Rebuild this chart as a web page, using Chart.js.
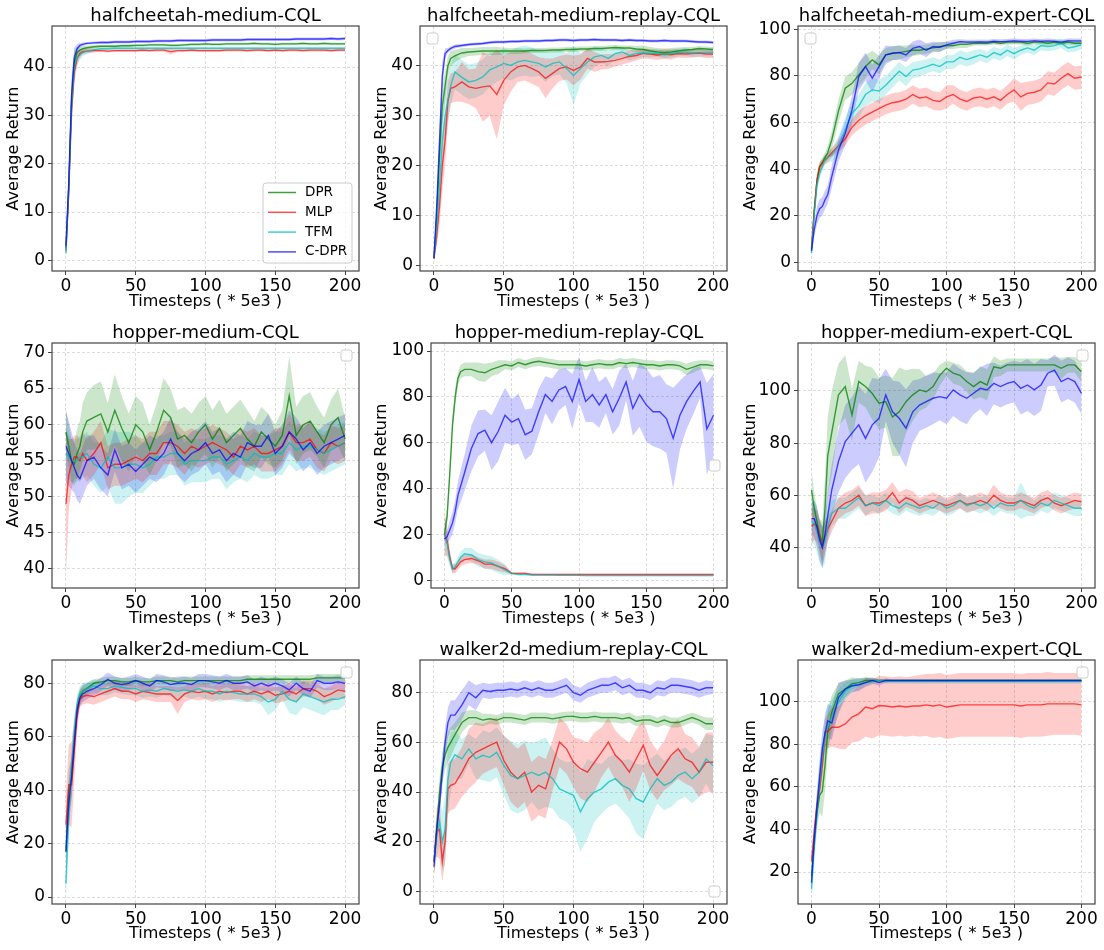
<!doctype html>
<html>
<head>
<meta charset="utf-8">
<title>CQL learning curves</title>
<script src="https://cdn.jsdelivr.net/npm/chart.js@4.4.0/dist/chart.umd.min.js"></script>
<style>
	body { margin: 0; background: #fff; width: 1104px; height: 950px; position: relative; overflow: hidden; }
	canvas { position: absolute; }
</style>
</head>
<body>
<script>
// x positions of the logged points (Timesteps / 5e3)
var steps = [0, 2, 4, 6, 8, 10, 12, 15,
	20, 25, 30, 35, 40, 45, 50, 55, 60, 65,
	70, 75, 80, 85, 90, 95, 100, 105, 110, 115,
	120, 125, 130, 135, 140, 145, 150, 155, 160, 165,
	170, 175, 180, 185, 190, 195, 200];
var xTicks = [0, 50, 100, 150, 200];
var seriesNames = ['DPR', 'MLP', 'TFM', 'C-DPR'];

// halfcheetah-medium
var hcMedTicks = [0, 10, 20, 30, 40];
var hcMedDPR = [2.5, 15, 33, 41, 43, 43.5, 43.8, 44.0,
	44.2, 44.3, 44.3, 44.3, 44.4, 44.4, 44.5, 44.5, 44.6, 44.6,
	44.6, 44.5, 44.5, 44.6, 44.7, 44.7, 44.8, 44.7, 44.7, 44.8,
	44.8, 44.8, 44.8, 44.9, 44.8, 44.8, 44.7, 44.8, 44.8, 44.8,
	44.9, 44.8, 44.8, 44.9, 44.8, 44.8, 44.8];
var hcMedDPRsd = [1, 3, 4, 2.5, 1.2, 0.8, 0.5, 0.4,
	0.3, 0.3, 0.3, 0.3, 0.3, 0.3, 0.3, 0.3, 0.3, 0.3,
	0.3, 0.3, 0.3, 0.3, 0.3, 0.3, 0.3, 0.3, 0.3, 0.3,
	0.3, 0.3, 0.3, 0.3, 0.3, 0.3, 0.3, 0.3, 0.3, 0.3,
	0.3, 0.3, 0.3, 0.3, 0.3, 0.3, 0.3];
var hcMedMLP = [2, 14, 31, 39, 41.8, 42.8, 43.2, 43.3,
	43.4, 43.4, 43.3, 43.4, 43.4, 43.4, 43.4, 43.5, 43.4, 43.5,
	43.5, 43.2, 43.4, 43.4, 43.5, 43.4, 43.4, 43.4, 43.4, 43.5,
	43.5, 43.5, 43.4, 43.5, 43.5, 43.4, 43.5, 43.4, 43.5, 43.5,
	43.4, 43.5, 43.5, 43.5, 43.4, 43.5, 43.5];
var hcMedMLPsd = [1, 3, 4, 2.5, 1.5, 0.8, 0.6, 0.5,
	0.4, 0.3, 0.3, 0.3, 0.3, 0.3, 0.3, 0.3, 0.3, 0.3,
	0.3, 0.6, 0.3, 0.3, 0.3, 0.3, 0.3, 0.3, 0.3, 0.3,
	0.3, 0.3, 0.3, 0.3, 0.3, 0.3, 0.3, 0.3, 0.3, 0.3,
	0.3, 0.3, 0.3, 0.3, 0.3, 0.3, 0.3];
var hcMedTFM = [1.5, 15, 32, 40, 42, 42.5, 43, 43.3,
	43.6, 43.8, 43.8, 43.9, 43.9, 43.9, 43.9, 43.9, 43.9, 43.9,
	43.9, 43.9, 43.9, 43.9, 43.9, 43.9, 43.9, 43.9, 43.9, 43.9,
	43.9, 43.9, 43.9, 43.9, 43.9, 43.9, 43.9, 43.9, 43.9, 43.9,
	43.9, 43.9, 43.9, 43.9, 43.9, 43.9, 43.9];
var hcMedTFMsd = [1.5, 3, 4, 2.5, 1.5, 1, 0.8, 0.6,
	0.4, 0.3, 0.3, 0.3, 0.3, 0.3, 0.3, 0.3, 0.3, 0.3,
	0.3, 0.3, 0.3, 0.3, 0.3, 0.3, 0.3, 0.3, 0.3, 0.3,
	0.3, 0.3, 0.3, 0.3, 0.3, 0.3, 0.3, 0.3, 0.3, 0.3,
	0.3, 0.3, 0.3, 0.3, 0.3, 0.3, 0.3];
var hcMedCDPR = [3, 16, 34, 42, 43.8, 44.5, 44.7, 44.9,
	45.0, 45.1, 45.1, 45.2, 45.2, 45.2, 45.3, 45.3, 45.3, 45.4,
	45.4, 45.4, 45.5, 45.5, 45.5, 45.5, 45.5, 45.6, 45.6, 45.6,
	45.6, 45.6, 45.7, 45.7, 45.7, 45.7, 45.7, 45.7, 45.7, 45.8,
	45.8, 45.8, 45.8, 45.8, 45.9, 45.8, 45.9];
var hcMedCDPRsd = [1, 3, 4, 2, 1, 0.5, 0.4, 0.3,
	0.3, 0.3, 0.3, 0.3, 0.3, 0.3, 0.3, 0.3, 0.3, 0.3,
	0.3, 0.3, 0.3, 0.3, 0.3, 0.3, 0.3, 0.3, 0.3, 0.3,
	0.3, 0.3, 0.3, 0.3, 0.3, 0.3, 0.3, 0.3, 0.3, 0.3,
	0.3, 0.3, 0.3, 0.3, 0.3, 0.3, 0.3];

// halfcheetah-medium-replay
var hcRepTicks = [0, 10, 20, 30, 40];
var hcRepDPR = [1.5, 10, 22, 32, 36, 40, 41.5, 42,
	42.6, 42.8, 42.9, 43.0, 43.0, 43.0, 43.0, 43.0, 43.0, 43.0,
	43.1, 43.1, 43.1, 43.2, 43.2, 43.3, 43.3, 43.4, 43.4, 43.5,
	43.5, 43.6, 43.7, 43.6, 43.6, 43.4, 43.3, 43.0, 42.8, 42.7,
	42.8, 43.0, 43.2, 43.3, 43.5, 43.4, 43.3];
var hcRepDPRsd = [1, 3, 4, 4, 3, 2, 1.5, 1.2,
	1, 0.8, 0.8, 0.8, 0.8, 0.8, 0.7, 0.6, 0.6, 0.5,
	0.5, 0.5, 0.5, 0.5, 0.5, 0.5, 0.5, 0.5, 0.5, 0.5,
	0.5, 0.5, 0.5, 0.5, 0.5, 0.6, 0.8, 0.8, 0.8, 0.8,
	0.8, 0.7, 0.6, 0.5, 0.5, 0.5, 0.5];
var hcRepMLP = [1.3, 6, 12, 20, 25, 33, 35.5, 35.8,
	36.8, 35.8, 35.5, 35.8, 36.0, 34.3, 37.1, 38.8, 39.8, 40.1,
	39.5, 38.8, 37.5, 38.5, 39.5, 39.8, 39.1, 39.8, 41.5, 40.8,
	40.8, 40.9, 41.1, 41.5, 41.9, 42.1, 42.5, 42.4, 42.2, 42.4,
	42.3, 42.5, 42.4, 42.5, 42.6, 42.4, 42.4];
var hcRepMLPsd = [0.5, 2, 4, 5, 5, 4, 3, 3,
	4, 3.5, 4, 7, 6, 9, 5, 4, 3, 3,
	3, 3, 4, 3, 2.5, 2.5, 3, 2.5, 2, 2,
	1.5, 1.5, 1.2, 1.2, 1.2, 1, 1, 1, 1, 1,
	1, 0.8, 0.8, 0.8, 0.8, 0.8, 0.8];
var hcRepTFM = [1.5, 8, 16, 25, 30, 33, 36, 38.8,
	37.7, 36.8, 37.1, 37.8, 39.2, 39.8, 40.5, 40.1, 40.8, 41.1,
	40.8, 40.5, 39.8, 40.5, 40.8, 39.5, 38.1, 39.5, 40.8, 41.8,
	42.1, 41.5, 42.5, 42.8, 42.1, 42.5, 42.6, 42.5, 42.6, 42.3,
	42.5, 42.7, 42.8, 42.6, 42.7, 42.7, 42.7];
var hcRepTFMsd = [1, 3, 4, 5, 5, 5, 4, 3.5,
	3.5, 3.5, 3.5, 3.5, 3.5, 3, 3, 3, 3, 3,
	3, 2.5, 3, 2.5, 2.5, 3, 6, 3, 2.5, 2,
	1.5, 1.5, 1.2, 1, 1, 1, 0.8, 0.8, 0.8, 0.8,
	0.8, 0.8, 0.8, 0.8, 0.8, 0.8, 0.8];
var hcRepCDPR = [1.5, 12, 25, 38, 42.5, 43.1, 43.5, 43.9,
	44.1, 44.3, 44.4, 44.5, 44.7, 44.8, 44.8, 44.9, 44.9, 45.0,
	45.0, 45.0, 45.1, 45.1, 45.2, 45.2, 45.1, 45.2, 45.2, 45.3,
	45.2, 45.2, 45.2, 45.1, 45.2, 45.1, 45.1, 45.0, 45.0, 45.1,
	45.0, 45.0, 45.0, 44.9, 44.8, 44.8, 44.7];
var hcRepCDPRsd = [0.5, 2, 3, 3, 1, 0.5, 0.4, 0.4,
	0.3, 0.3, 0.3, 0.3, 0.3, 0.3, 0.3, 0.3, 0.3, 0.3,
	0.3, 0.3, 0.3, 0.3, 0.3, 0.3, 0.3, 0.3, 0.3, 0.3,
	0.3, 0.3, 0.3, 0.3, 0.3, 0.3, 0.3, 0.3, 0.3, 0.3,
	0.3, 0.3, 0.3, 0.3, 0.3, 0.3, 0.3];

// halfcheetah-medium-expert
var hcExpTicks = [0, 20, 40, 60, 80, 100];
var hcExpDPR = [5, 22, 35, 41, 43, 45, 47, 52.5,
	65, 74.7, 76.8, 80.4, 84, 86.8, 84.7, 89, 89.7, 90,
	90.5, 91, 91, 91.5, 92, 92.5, 93, 93, 93.5, 93.5,
	94, 94, 94, 94.5, 94, 94.5, 94.5, 94.5, 94, 94.5,
	94.5, 94, 94.5, 94, 94.5, 94, 94];
var hcExpDPRsd = [2, 3, 3, 2, 2, 2, 3, 4,
	5, 5, 5, 5, 5, 4, 4, 3, 3, 3,
	2.5, 2.5, 2, 2, 2, 2, 1.5, 1.5, 1.5, 1.5,
	1, 1, 1, 1, 1, 1, 1, 1, 1, 1,
	1, 1, 1, 1, 1, 1, 1];
var hcExpMLP = [6, 22, 35, 41, 42.5, 44, 45, 47,
	50, 53, 58, 61, 63, 64.5, 66, 67.5, 68.5, 69,
	70, 72, 70.5, 71, 69.5, 69, 71, 72, 70, 69,
	70.5, 71, 70, 71, 69.5, 72, 74, 71, 72.5, 73,
	74, 77, 76.5, 79, 81, 79, 79.5];
var hcExpMLPsd = [2, 3, 3, 2, 2, 2, 2, 2,
	2.5, 3, 3.5, 4, 4, 4, 4, 4, 4, 4,
	4, 4, 4, 4, 4, 4, 5, 4, 4, 4,
	4, 4, 4, 4, 4, 4, 5, 6, 5, 5,
	5, 5, 5, 5, 5, 5, 5];
var hcExpTFM = [4, 20, 33, 38, 41, 44, 45, 46,
	50, 57, 64, 67, 72, 74, 73.5, 76, 79, 82,
	79.7, 82.5, 83, 84, 85, 84, 86, 86, 88, 87,
	88, 89, 88, 90, 89, 91, 89.5, 91, 92, 91,
	93, 92.6, 93, 94, 92, 92.5, 93.3];
var hcExpTFMsd = [2, 3, 3, 2, 2, 2, 2, 3,
	4, 5, 5, 5, 5, 5, 5, 4, 4, 4,
	4, 3.5, 3.5, 3, 3, 3, 3, 3, 3, 3,
	3, 2.5, 2.5, 2.5, 2.5, 2.5, 2.5, 2, 2, 2,
	2, 2, 2, 2, 2, 2, 2];
var hcExpCDPR = [5, 14, 20, 23, 24, 26.8, 29, 36.8,
	48.2, 55.4, 65.4, 79.7, 84, 79, 84, 89, 89.7, 90,
	89, 91.8, 92.6, 91, 92.6, 92.3, 93.3, 94, 94.7, 94.5,
	94.5, 94.6, 94.5, 94.8, 94.7, 94.8, 95, 94.8, 94.8, 95,
	94.8, 95, 94.8, 94.5, 95, 95, 95];
var hcExpCDPRsd = [2, 3, 4, 4, 4, 4, 4, 5,
	5, 5, 6, 6, 6, 6, 5, 4, 3, 3,
	3, 3, 3, 3, 2, 2, 1.5, 1.5, 1, 1,
	1, 1, 1, 1, 1, 1, 1, 1, 1, 1,
	1, 1, 1, 1, 1, 1, 1];

// hopper-medium
var hopMedTicks = [40, 45, 50, 55, 60, 65, 70];
var hopMedDPR = [59, 57, 55, 54.5, 56, 57, 59, 60.5,
	61, 61.5, 59, 62, 59.5, 57.5, 60, 59, 56.5, 59,
	62, 61, 58, 58.5, 57.5, 59, 60, 58, 59.5, 57.5,
	58.5, 59.5, 58, 57, 59, 58, 57, 58.5, 64, 58.5,
	60, 60.5, 59, 57.5, 60, 61, 58];
var hopMedDPRsd = [3, 3, 3, 3, 3.5, 3.5, 4, 4,
	4.5, 4.5, 4, 5, 4.5, 4, 4, 4, 3.5, 4,
	4.5, 4, 4, 4, 4, 4, 4, 4, 4, 4,
	4, 4, 4, 3.5, 3.5, 3.5, 3, 3.5, 5.5, 4,
	4, 4, 3.5, 3.5, 3.5, 4, 3];
var hopMedMLP = [49, 53, 54.5, 55.5, 55.5, 55, 56, 55,
	56, 57.5, 54, 54.5, 54.5, 55, 55.5, 55, 56, 56,
	57.5, 57.5, 57, 56, 57, 56.5, 57, 57.5, 57, 56.5,
	55.5, 57, 56.5, 57, 56, 56, 56.5, 57, 59, 57.5,
	57.5, 58, 56.5, 56, 57.5, 57, 57.5];
var hopMedMLPsd = [10, 5, 3.5, 3, 3, 3, 3, 3,
	3, 3, 3, 3, 3, 3, 3, 3, 3, 3,
	3, 3, 3, 3, 2.5, 2.5, 2.5, 2.5, 2.5, 2.5,
	2.5, 2.5, 2.5, 2.5, 2.5, 2.5, 3, 2.5, 2.5, 2.5,
	2.5, 2.5, 2.5, 2.5, 2.5, 2.5, 2.5];
var hopMedTFM = [56, 55.5, 55, 55, 55, 55.5, 55.5, 56,
	54.5, 54, 55.5, 54, 54, 54.5, 54.5, 54, 54.5, 55.5,
	55.5, 56, 56, 54.5, 55, 55, 55, 55.5, 55.5, 54.5,
	55, 55.5, 55, 56, 55.5, 55.5, 56, 56, 57.5, 56.5,
	57, 57, 56.5, 56, 56.5, 57, 57.5];
var hopMedTFMsd = [3.5, 3, 3, 3, 3, 3, 3, 3,
	3, 3.5, 4, 5, 5, 4.5, 4, 3.5, 3, 3,
	3, 3, 3, 3, 3, 3, 3, 3, 3, 3.5,
	3, 3, 3, 3, 3, 3, 3, 3, 3, 3,
	3, 3, 3, 3, 3, 3, 3];
var hopMedCDPR = [57, 56, 55, 54, 53, 52.5, 53.5, 55,
	55.5, 54, 53, 56.5, 54, 54.5, 53.5, 54.5, 55.5, 55,
	56, 58, 56, 55, 56, 56.5, 57.5, 56, 56.5, 55,
	56, 55.5, 57.5, 57, 57, 58.5, 56, 57, 59, 58,
	56.5, 57.5, 56, 57, 57.5, 58, 58.5];
var hopMedCDPRsd = [5, 4.5, 4, 3.5, 3.5, 3.5, 3.5, 3.5,
	3, 3, 3, 3, 3, 3, 3, 3, 3, 3,
	3, 3, 3, 3, 3, 3, 3, 3, 3, 3,
	3, 3, 3, 3, 3, 3, 3, 3, 3, 3,
	3, 3, 3, 3, 3, 3, 3];

// hopper-medium-replay
var hopRepTicks = [0, 20, 40, 60, 80, 100];
var hopRepDPR = [20, 28, 47, 68, 80, 88, 91, 92,
	92, 91, 90.5, 92, 93, 94, 93.5, 95, 94, 95,
	95.5, 95, 94.5, 94, 94, 94, 94, 93.5, 94, 94.5,
	94, 94, 95, 94.5, 95, 94.5, 94, 94, 93.5, 94,
	94, 93.5, 92, 93, 94, 94, 93.5];
var hopRepDPRsd = [3, 4, 4, 4, 4, 3, 3, 3,
	3, 4, 4, 3, 3, 2, 2, 2, 2, 2,
	2, 2, 2, 2, 2, 2, 2, 2, 2, 2,
	2, 2, 2, 2, 2, 2, 2, 2, 2, 2,
	2, 2, 2.5, 2.5, 2, 2, 2];
var hopRepMLP = [20, 17, 10, 5, 5, 6.5, 8, 9,
	9.5, 8.5, 7, 7, 6, 5, 3, 3, 3, 2.5,
	2.5, 2.5, 2.5, 2.5, 2.5, 2.5, 2.5, 2.5, 2.5, 2.5,
	2.5, 2.5, 2.5, 2.5, 2.5, 2.5, 2.5, 2.5, 2.5, 2.5,
	2.5, 2.5, 2.5, 2.5, 2.5, 2.5, 2.5];
var hopRepMLPsd = [10, 6, 3, 2, 2, 2, 2, 2,
	2, 1.5, 2, 2, 2, 1.5, 0.5, 0.5, 0.5, 0.4,
	0.3, 0.3, 0.3, 0.3, 0.3, 0.3, 0.3, 0.3, 0.3, 0.3,
	0.3, 0.3, 0.3, 0.3, 0.3, 0.3, 0.3, 0.3, 0.3, 0.3,
	0.3, 0.3, 0.3, 0.3, 0.3, 0.3, 0.3];
var hopRepTFM = [20, 16, 9, 5, 6, 8, 10, 11.5,
	11, 9, 8, 7.5, 6, 4.5, 3, 2.5, 2.5, 2.3,
	2.2, 2.2, 2.2, 2.1, 2.1, 2.1, 2.1, 2.0, 2.0, 2.0,
	2.0, 2.0, 2.0, 2.0, 2.0, 2.0, 2.0, 2.0, 2.0, 2.0,
	2.0, 2.0, 2.0, 2.0, 2.0, 2.0, 2.0];
var hopRepTFMsd = [8, 6, 3, 2, 2, 2, 2.5, 2.5,
	3, 3, 3, 3, 3, 2.5, 0.5, 0.4, 0.3, 0.3,
	0.3, 0.3, 0.3, 0.3, 0.3, 0.3, 0.3, 0.3, 0.3, 0.3,
	0.3, 0.3, 0.3, 0.3, 0.3, 0.3, 0.3, 0.3, 0.3, 0.3,
	0.3, 0.3, 0.3, 0.3, 0.3, 0.3, 0.3];
var hopRepCDPR = [18, 19, 22, 25, 30, 37, 41, 47,
	57.5, 64, 65.5, 60, 65, 72, 69, 70.5, 63.5, 65,
	73.5, 81, 78, 83, 84.5, 78, 87.5, 78, 81, 76.5,
	81, 73.5, 79.5, 86.5, 75, 81, 76.5, 73.5, 73.5, 70.5,
	62, 72, 78, 82.5, 86.5, 66, 72];
var hopRepCDPRsd = [2, 3, 4, 5, 5, 6, 7, 8,
	10, 10, 9, 12, 13, 12, 10, 11, 11, 10,
	10, 8, 10, 9, 8, 12, 10, 9, 12, 10,
	8, 10, 12, 8, 12, 14, 16, 15, 16, 15,
	22, 15, 12, 10, 7, 20, 18];

// hopper-medium-expert
var hopExpTicks = [40, 60, 80, 100];
var hopExpDPR = [62, 55, 50, 45, 42, 55, 75, 84,
	98.5, 101.7, 90.8, 103.6, 101.7, 99, 95.3, 95.9, 90, 92,
	95.9, 98.5, 100.4, 99.7, 101.7, 106, 108.7, 106.8, 106, 103.6,
	101.7, 103.6, 102.3, 109.3, 108.7, 110, 110, 110, 110, 110,
	110, 110, 110, 108.7, 110, 110, 107.4];
var hopExpDPRsd = [8, 6, 5, 6, 8, 12, 15, 16,
	12, 12, 10, 8, 8, 10, 10, 10, 15, 17,
	12, 10, 8, 6, 5, 4, 3, 4, 4, 4,
	5, 6, 6, 4, 3, 2.5, 2.5, 2.5, 2.5, 2.5,
	2.5, 2.5, 3, 4, 3, 3, 4];
var hopExpMLP = [48, 49, 48, 44, 40, 44, 47, 50,
	55, 57, 58, 60, 56, 57, 57, 58, 61, 57,
	59, 58, 56, 57, 58, 57, 56, 57, 58, 56.5,
	57, 58, 57, 60, 58, 57, 57, 58, 57, 56,
	58, 59, 57, 56, 57, 58, 57.5];
var hopExpMLPsd = [7, 6, 6, 6, 7, 6, 5, 4,
	4, 4, 4, 4, 4, 4, 4, 4, 4, 4,
	3.5, 3.5, 3, 3, 3, 3, 3, 3, 3, 3,
	3, 3, 3, 4, 3, 3, 3, 3, 3, 3,
	3, 3, 3, 3, 3, 3, 3];
var hopExpTFM = [50, 49, 46, 42, 40, 42, 48, 53,
	55, 55, 57, 59, 56, 57, 56, 58, 56, 55,
	57, 56, 55, 56, 55, 57, 55, 56, 58, 56,
	57, 56, 57, 55, 57, 56, 56, 58, 56, 55,
	57, 56, 58, 57, 56, 55, 55];
var hopExpTFMsd = [8, 8, 8, 8, 8, 8, 6, 5,
	4, 4, 4, 4, 4, 3, 3, 3, 3, 3,
	3, 3, 3, 3, 3, 3, 3, 3, 3, 3,
	3, 3, 3, 3, 3, 3, 3, 7, 4, 3,
	3, 3, 3, 3, 3, 3, 3];
var hopExpCDPR = [51, 51, 48, 43, 40, 45, 52, 62,
	73, 80.6, 83.8, 87, 81.8, 87, 89.5, 98.5, 92, 89.5,
	85.7, 92, 94.6, 95.9, 97.2, 97.8, 97.2, 100.4, 98.5, 97.2,
	99.1, 101, 100.4, 102.9, 101.7, 102.9, 103.6, 101, 102.3, 100.4,
	102.3, 106.8, 108, 103.6, 104.9, 103.6, 99.1];
var hopExpCDPRsd = [6, 7, 8, 8, 8, 8, 9, 10,
	12, 14, 14, 15, 17, 18, 15, 10, 12, 14,
	15, 12, 10, 10, 10, 9, 10, 10, 10, 10,
	8, 8, 10, 8, 8, 8, 8, 10, 10, 10,
	10, 5, 6, 8, 8, 8, 8];

// walker2d-medium
var wkMedTicks = [0, 20, 40, 60, 80];
var wkMedDPR = [17, 40, 44, 58, 70, 75, 77, 78,
	80, 80.5, 81, 81, 80.5, 80.5, 81, 80.5, 80.5, 81,
	81, 81, 80.5, 81, 81, 81, 81, 81, 81, 81,
	81, 81, 81.5, 81.5, 81.5, 81.5, 81.5, 81.5, 81.5, 81.5,
	81.5, 81.5, 82, 82, 82, 82, 82];
var wkMedDPRsd = [8, 8, 8, 6, 4, 3, 2.5, 2,
	1.5, 1.5, 1.5, 1.5, 1.5, 1.5, 1.5, 1.5, 1.5, 1.5,
	1.5, 1.5, 1.5, 1.5, 1.5, 1.5, 1.5, 1.5, 1.5, 1.5,
	1.5, 1.5, 1.5, 1.5, 1.5, 1.5, 1.5, 1.5, 1.5, 1.5,
	1.5, 1.5, 1.5, 1.5, 1.5, 1.5, 1.5];
var wkMedMLP = [27, 42, 42, 55, 68, 74, 75, 75.5,
	75, 76, 77, 78, 77, 77, 76, 77, 76.5, 76,
	76, 76, 73.5, 76, 77, 76.5, 77, 76, 77, 76.5,
	77, 77, 76, 77, 76, 77, 75.5, 76, 77, 76,
	78, 78, 77, 75, 76, 77.5, 77];
var wkMedMLPsd = [12, 15, 16, 12, 6, 3, 3, 3,
	3, 3, 3, 3, 3, 3, 3, 3, 3, 3,
	3, 3, 5, 3, 3, 3, 3, 3, 3, 3,
	3, 3, 3, 3, 3, 3, 3, 3, 3, 3,
	3, 3, 3, 3, 3, 3, 3];
var wkMedTFM = [5, 30, 48, 62, 72, 76, 77, 78,
	79, 78, 78, 79, 78.5, 78, 78, 77, 77.5, 77,
	78, 77.5, 77, 77.5, 77, 78, 77, 77, 76, 77,
	76.5, 76, 76, 76, 75, 73, 74, 77, 74, 73,
	76, 75, 74, 73, 74, 74, 75];
var wkMedTFMsd = [6, 8, 8, 6, 4, 3, 3, 2.5,
	2.5, 2.5, 2.5, 2.5, 2.5, 2.5, 2.5, 2.5, 2.5, 2.5,
	2.5, 2.5, 2.5, 2.5, 3, 3, 3, 3, 3, 3,
	3, 3, 3, 3, 3, 5, 4, 3, 5, 5,
	5, 5, 5, 5, 4, 4, 3];
var wkMedCDPR = [17, 35, 45, 58, 70, 74.5, 76, 77,
	78, 79.5, 81.5, 80, 79.5, 80, 81, 80, 79, 81,
	80.5, 79.5, 80, 80, 79.5, 81, 81, 80.5, 80, 81,
	80, 80, 80.5, 79, 80, 79, 80, 79, 77.5, 80,
	78, 77, 81, 80, 80, 80.5, 80];
var wkMedCDPRsd = [8, 8, 8, 6, 4, 3, 3, 3,
	2.5, 2.5, 2.5, 2.5, 2.5, 2.5, 2.5, 2.5, 2.5, 2.5,
	2.5, 2.5, 2.5, 2.5, 2.5, 2.5, 2.5, 2.5, 2.5, 2.5,
	2.5, 2.5, 2.5, 2.5, 2.5, 2.5, 2.5, 2.5, 2.5, 2.5,
	2.5, 2.5, 2.5, 2.5, 2.5, 2.5, 2.5];

// walker2d-medium-replay
var wkRepTicks = [0, 20, 40, 60, 80];
var wkRepDPR = [12, 25, 40, 50, 55, 58, 60, 63,
	68, 70, 70, 69, 69.5, 69, 70, 70, 69.5, 69,
	70, 70, 70, 69.5, 70, 70.5, 70.5, 70, 70, 70.5,
	70, 70, 70, 69.5, 70, 68.5, 69, 69, 68, 69,
	68, 68, 69, 70, 69, 67.5, 67.5];
var wkRepDPRsd = [4, 5, 6, 6, 6, 6, 6, 5,
	4, 3, 3, 2.5, 2, 2, 2, 2, 2, 2,
	2, 2, 2, 2, 2, 2, 2, 2, 2, 2,
	2, 2, 2, 2, 2, 2, 2, 2, 2, 2,
	2, 2, 2, 2, 2, 2.5, 2.5];
var wkRepMLP = [12, 24, 25, 12, 20, 41.3, 42.7, 43.4,
	48, 53.4, 56, 57.4, 58.8, 60.1, 52.8, 48, 45.4, 48,
	40, 42.7, 41.3, 50.7, 60.1, 57.4, 52, 49.4, 48, 52,
	56, 60.1, 54.8, 52, 48, 53.4, 58.8, 50.7, 46.7, 50.7,
	54.8, 57.4, 53.4, 52, 48, 52, 52];
var wkRepMLPsd = [6, 10, 12, 8, 8, 10, 10, 10,
	10, 12, 12, 10, 10, 10, 10, 12, 12, 12,
	12, 12, 12, 10, 10, 10, 10, 12, 12, 12,
	10, 10, 10, 10, 12, 12, 10, 10, 10, 10,
	12, 12, 10, 10, 10, 12, 12];
var wkRepTFM = [12, 22, 28, 20, 25, 45, 52, 55,
	53.4, 57.4, 53.4, 54.8, 54, 56, 50.7, 46.7, 45.4, 46.7,
	48, 46.7, 48, 45.4, 41.3, 40, 38.7, 32, 37.3, 40,
	41.3, 44, 45.4, 42.7, 41.3, 37.3, 36, 41.3, 45.4, 42.7,
	44, 46.7, 48, 45.4, 48, 53.4, 50.7];
var wkRepTFMsd = [5, 8, 10, 12, 14, 14, 12, 10,
	8, 6, 8, 10, 10, 10, 12, 14, 14, 14,
	12, 14, 14, 12, 12, 12, 14, 16, 16, 12,
	10, 10, 10, 10, 12, 14, 15, 12, 10, 10,
	10, 10, 10, 10, 10, 10, 12];
var wkRepCDPR = [10, 25, 35, 48, 60, 68, 71, 71,
	75, 80, 78, 81, 80.5, 81, 81, 81.5, 81, 82,
	81, 82, 81, 81, 82, 83, 80, 79, 81, 82,
	83, 83, 84, 82, 83, 81, 81, 80, 82, 81.5,
	83, 83, 82.5, 82, 81, 82, 82];
var wkRepCDPRsd = [3, 4, 5, 6, 6, 6, 6, 6,
	6, 5, 5, 3, 3, 3, 3, 3, 3, 3,
	3, 3, 3, 3, 3, 3, 3, 3, 3, 3,
	3, 3, 3, 3, 3, 3, 3, 3, 3, 3,
	3, 3, 3, 3, 3, 3, 2.5];

// walker2d-medium-expert
var wkExpTicks = [20, 40, 60, 80, 100];
var wkExpDPR = [18, 35, 48, 56, 58, 70, 85.7, 95,
	103.7, 106, 108.5, 109, 110, 110, 110, 110, 110, 110,
	110, 110, 110, 110, 110, 110, 110, 110, 110, 110,
	110, 110, 110, 110, 110, 110, 110, 110, 110, 110,
	110, 110, 110, 110, 110, 110, 110];
var wkExpDPRsd = [5, 6, 7, 8, 12, 12, 10, 8,
	5, 4, 3, 2, 1.5, 1, 0.5, 0.5, 0.5, 0.5,
	0.5, 0.5, 0.5, 0.5, 0.5, 0.5, 0.5, 0.5, 0.5, 0.5,
	0.5, 0.5, 0.5, 0.5, 0.5, 0.5, 0.5, 0.5, 0.5, 0.5,
	0.5, 0.5, 0.5, 0.5, 0.5, 0.5, 0.5];
var wkExpMLP = [25, 39, 51, 59, 70, 85.7, 86, 88,
	88, 89.6, 92.8, 94.3, 97.5, 96.7, 98.2, 98, 97.5, 98,
	97.5, 98, 98, 98.5, 98, 98.5, 97.5, 98, 98.5, 98.5,
	98.5, 98.5, 98.5, 98.5, 98.5, 98.5, 98.5, 98, 98.5, 98.5,
	98.5, 99, 99, 99, 99, 99, 98.5];
var wkExpMLPsd = [3, 4, 5, 5, 6, 6, 8, 9,
	10, 12, 12, 13, 14, 14, 14, 14, 14, 14,
	14, 14, 14.5, 14.5, 15, 15, 15, 15, 15, 15,
	15, 15, 15, 15, 15, 15, 15, 15, 15, 15,
	15, 15, 14.5, 14.5, 14.5, 14.5, 14.5];
var wkExpTFM = [12, 32, 48, 62, 75, 85, 88, 93,
	100, 105, 107.5, 108, 109, 109.5, 110, 109.5, 109.5, 109.5,
	109.5, 109.5, 109.5, 109.5, 109.5, 109.5, 109.5, 109.5, 109.5, 109.5,
	109.5, 109.5, 109.5, 109.5, 109.5, 109.5, 109.5, 109.5, 109.5, 109.5,
	109.5, 109.5, 109.5, 109.5, 109.5, 109.5, 109.5];
var wkExpTFMsd = [6, 8, 8, 8, 8, 10, 10, 8,
	6, 4, 3, 2.5, 2, 1.5, 1, 1, 1, 1,
	1, 1, 1, 1, 1, 1, 1, 1, 1, 1,
	1, 1, 1, 1, 1, 1, 1, 1, 1, 1,
	1, 1, 1, 1, 1, 1, 1];
var wkExpCDPR = [15, 35, 50, 65, 78, 85, 91, 90,
	102, 106, 107.5, 108, 109, 110, 109, 110, 110, 110,
	110, 110, 110, 110, 110, 110, 110, 110, 110, 110,
	110, 110, 110, 110, 110, 110, 110, 110, 110, 110,
	110, 110, 110, 110, 110, 110, 110];
var wkExpCDPRsd = [5, 7, 8, 8, 8, 8, 8, 8,
	7, 4, 3, 3, 2, 1.5, 1.5, 1, 0.5, 0.5,
	0.5, 0.5, 0.5, 0.5, 0.5, 0.5, 0.5, 0.5, 0.5, 0.5,
	0.5, 0.5, 0.5, 0.5, 0.5, 0.5, 0.5, 0.5, 0.5, 0.5,
	0.5, 0.5, 0.5, 0.5, 0.5, 0.5, 0.5];

// ---- styling / layout ----
var lineColors = ['rgba(0,128,0,0.75)', 'rgba(255,0,0,0.7)', 'rgba(0,191,191,0.75)', 'rgba(0,0,255,0.7)'];
var bandColors = ['rgba(0,128,0,0.2)', 'rgba(255,0,0,0.2)', 'rgba(0,191,191,0.2)', 'rgba(0,0,255,0.2)'];
var FONT = '"DejaVu Sans", "Liberation Sans", sans-serif';

// canvas box [left, top, width, height] and plot area [left, top, right, bottom] in page pixels
var panels = [
	{ title: 'halfcheetah-medium-CQL', m: [hcMedDPR, hcMedMLP, hcMedTFM, hcMedCDPR], s: [hcMedDPRsd, hcMedMLPsd, hcMedTFMsd, hcMedCDPRsd],
	  yTicks: hcMedTicks, yMin: -2.2, yMax: 48.5, legend: 'full', box: [0, 0, 368, 314], plot: [52, 26, 359, 271] },
	{ title: 'halfcheetah-medium-replay-CQL', m: [hcRepDPR, hcRepMLP, hcRepTFM, hcRepCDPR], s: [hcRepDPRsd, hcRepMLPsd, hcRepTFMsd, hcRepCDPRsd],
	  yTicks: hcRepTicks, yMin: -1.1, yMax: 48.0, legend: 'tl', box: [368, 0, 368, 314], plot: [420, 26, 727, 271] },
	{ title: 'halfcheetah-medium-expert-CQL', m: [hcExpDPR, hcExpMLP, hcExpTFM, hcExpCDPR], s: [hcExpDPRsd, hcExpMLPsd, hcExpTFMsd, hcExpCDPRsd],
	  yTicks: hcExpTicks, yMin: -3.7, yMax: 101.4, legend: 'tl', box: [737, 0, 367, 314], plot: [798, 26, 1095, 271] },
	{ title: 'hopper-medium-CQL', m: [hopMedDPR, hopMedMLP, hopMedTFM, hopMedCDPR], s: [hopMedDPRsd, hopMedMLPsd, hopMedTFMsd, hopMedCDPRsd],
	  yTicks: hopMedTicks, yMin: 37.3, yMax: 71.35, legend: 'tr', box: [0, 316, 368, 315], plot: [52, 343, 359, 588] },
	{ title: 'hopper-medium-replay-CQL', m: [hopRepDPR, hopRepMLP, hopRepTFM, hopRepCDPR], s: [hopRepDPRsd, hopRepMLPsd, hopRepTFMsd, hopRepCDPRsd],
	  yTicks: hopRepTicks, yMin: -3.4, yMax: 103.5, legend: 'r', box: [368, 316, 368, 315], plot: [431, 343, 727, 588] },
	{ title: 'hopper-medium-expert-CQL', m: [hopExpDPR, hopExpMLP, hopExpTFM, hopExpCDPR], s: [hopExpDPRsd, hopExpMLPsd, hopExpTFMsd, hopExpCDPRsd],
	  yTicks: hopExpTicks, yMin: 24.4, yMax: 118.4, legend: 'tr', box: [737, 316, 367, 315], plot: [798, 343, 1095, 588] },
	{ title: 'walker2d-medium-CQL', m: [wkMedDPR, wkMedMLP, wkMedTFM, wkMedCDPR], s: [wkMedDPRsd, wkMedMLPsd, wkMedTFMsd, wkMedCDPRsd],
	  yTicks: wkMedTicks, yMin: -2.6, yMax: 88.7, legend: 'tr', box: [0, 633, 368, 313], plot: [52, 660, 359, 904] },
	{ title: 'walker2d-medium-replay-CQL', m: [wkRepDPR, wkRepMLP, wkRepTFM, wkRepCDPR], s: [wkRepDPRsd, wkRepMLPsd, wkRepTFMsd, wkRepCDPRsd],
	  yTicks: wkRepTicks, yMin: -5.1, yMax: 93.2, legend: 'br', box: [368, 633, 368, 313], plot: [420, 660, 727, 904] },
	{ title: 'walker2d-medium-expert-CQL', m: [wkExpDPR, wkExpMLP, wkExpTFM, wkExpCDPR], s: [wkExpDPRsd, wkExpMLPsd, wkExpTFMsd, wkExpCDPRsd],
	  yTicks: wkExpTicks, yMin: 5.0, yMax: 119.6, legend: 'tr', box: [737, 633, 367, 313], plot: [798, 660, 1095, 904] }
];

function roundBox(ctx, x, y, w, h, r) {
	ctx.beginPath();
	ctx.moveTo(x + r, y);
	ctx.arcTo(x + w, y, x + w, y + h, r);
	ctx.arcTo(x + w, y + h, x, y + h, r);
	ctx.arcTo(x, y + h, x, y, r);
	ctx.arcTo(x, y, x + w, y, r);
	ctx.closePath();
}

// frame, title and the in-axes legend, drawn like matplotlib
var panelDecor = {
	id: 'panelDecor',
	afterDraw: function(chart, args, o) {
		var a = chart.chartArea, ctx = chart.ctx;
		ctx.save();
		ctx.strokeStyle = '#444';
		ctx.lineWidth = 1.2;
		ctx.strokeRect(a.left, a.top, a.right - a.left, a.bottom - a.top);

		ctx.fillStyle = '#000';
		ctx.font = '18px ' + FONT;
		ctx.textAlign = 'center';
		ctx.textBaseline = 'alphabetic';
		ctx.fillText(o.title, (a.left + a.right) / 2, a.top - 5.5);

		if (o.legend === 'full') {
			var bw = 89, bh = 80, bx = a.right - 7 - bw, by = a.bottom - 8 - bh;
			roundBox(ctx, bx, by, bw, bh, 3);
			ctx.fillStyle = 'rgba(255,255,255,0.8)';
			ctx.fill();
			ctx.strokeStyle = '#cccccc';
			ctx.lineWidth = 1;
			ctx.stroke();
			ctx.font = '13.5px ' + FONT;
			ctx.textAlign = 'left';
			ctx.textBaseline = 'middle';
			for (var k = 0; k < seriesNames.length; k++) {
				var ry = by + 9.5 + k * 19.8;
				ctx.strokeStyle = lineColors[k];
				ctx.lineWidth = 1.5;
				ctx.beginPath();
				ctx.moveTo(bx + 5, ry);
				ctx.lineTo(bx + 33, ry);
				ctx.stroke();
				ctx.fillStyle = '#000';
				ctx.fillText(seriesNames[k], bx + 42, ry);
			}
		} else if (o.legend) {
			// empty legend frame
			var sz = 11, lx = a.right - 7 - sz, ly = a.top + 7;
			if (o.legend === 'tl') { lx = a.left + 7; }
			else if (o.legend === 'r') { ly = (a.top + a.bottom) / 2 - sz / 2; }
			else if (o.legend === 'br') { ly = a.bottom - 7 - sz; }
			roundBox(ctx, lx, ly, sz, sz, 2.5);
			ctx.fillStyle = 'rgba(255,255,255,0.8)';
			ctx.fill();
			ctx.strokeStyle = '#cccccc';
			ctx.lineWidth = 1;
			ctx.stroke();
		}
		ctx.restore();
	}
};

Chart.defaults.font.family = FONT;
Chart.defaults.color = '#000';

var gridOpts = {
	color: 'rgba(160,160,160,0.45)',
	lineWidth: 0.8,
	tickColor: '#444',
	tickLength: 4,
	tickWidth: 1,
	tickBorderDash: []
};

panels.forEach(function(p) {
	var cv = document.createElement('canvas');
	cv.width = p.box[2];
	cv.height = p.box[3];
	cv.style.left = p.box[0] + 'px';
	cv.style.top = p.box[1] + 'px';
	cv.style.width = p.box[2] + 'px';
	cv.style.height = p.box[3] + 'px';
	document.body.appendChild(cv);

	var yw = p.plot[0] - p.box[0];
	var xh = p.box[1] + p.box[3] - p.plot[3];

	var datasets = [];
	for (var k = 0; k < 4; k++) {
		var mean = p.m[k], sd = p.s[k];
		datasets.push({
			data: steps.map(function(x, i) { return { x: x, y: mean[i] + sd[i] }; }),
			borderWidth: 0, borderColor: 'transparent', pointRadius: 0,
			backgroundColor: bandColors[k], fill: '+1', order: 20 + k
		});
		datasets.push({
			data: steps.map(function(x, i) { return { x: x, y: mean[i] - sd[i] }; }),
			borderWidth: 0, borderColor: 'transparent', pointRadius: 0,
			fill: false, order: 20 + k
		});
		datasets.push({
			label: seriesNames[k],
			data: steps.map(function(x, i) { return { x: x, y: mean[i] }; }),
			borderColor: lineColors[k], borderWidth: 1.4, pointRadius: 0,
			fill: false, order: 10 - k
		});
	}

	new Chart(cv, {
		type: 'line',
		data: { datasets: datasets },
		plugins: [panelDecor],
		options: {
			responsive: false,
			animation: false,
			events: [],
			layout: { padding: { top: p.plot[1] - p.box[1], left: 0, right: p.box[0] + p.box[2] - p.plot[2], bottom: 0 } },
			plugins: {
				legend: { display: false },
				tooltip: { enabled: false },
				panelDecor: { title: p.title, legend: p.legend }
			},
			scales: {
				x: {
					type: 'linear',
					min: -10,
					max: 210,
					afterBuildTicks: function(s) { s.ticks = xTicks.map(function(v) { return { value: v }; }); },
					afterFit: function(s) { s.height = xh; },
					ticks: { font: { size: 17 }, color: '#000', padding: 1, maxRotation: 0, autoSkip: false },
					grid: gridOpts,
					border: { display: false, dash: [3, 2] },
					title: { display: true, text: 'Timesteps ( * 5e3 )', font: { size: 16 }, color: '#000', padding: { top: 0, bottom: 3 } }
				},
				y: {
					min: p.yMin,
					max: p.yMax,
					afterBuildTicks: function(s) { s.ticks = p.yTicks.map(function(v) { return { value: v }; }); },
					afterFit: function(s) { s.width = yw; },
					ticks: { font: { size: 17 }, color: '#000', padding: 3 },
					grid: gridOpts,
					border: { display: false, dash: [3, 2] },
					title: { display: true, text: 'Average Return', font: { size: 16 }, color: '#000', padding: { top: 4, bottom: 0 } }
				}
			}
		}
	});
});
</script>
</body>
</html>
